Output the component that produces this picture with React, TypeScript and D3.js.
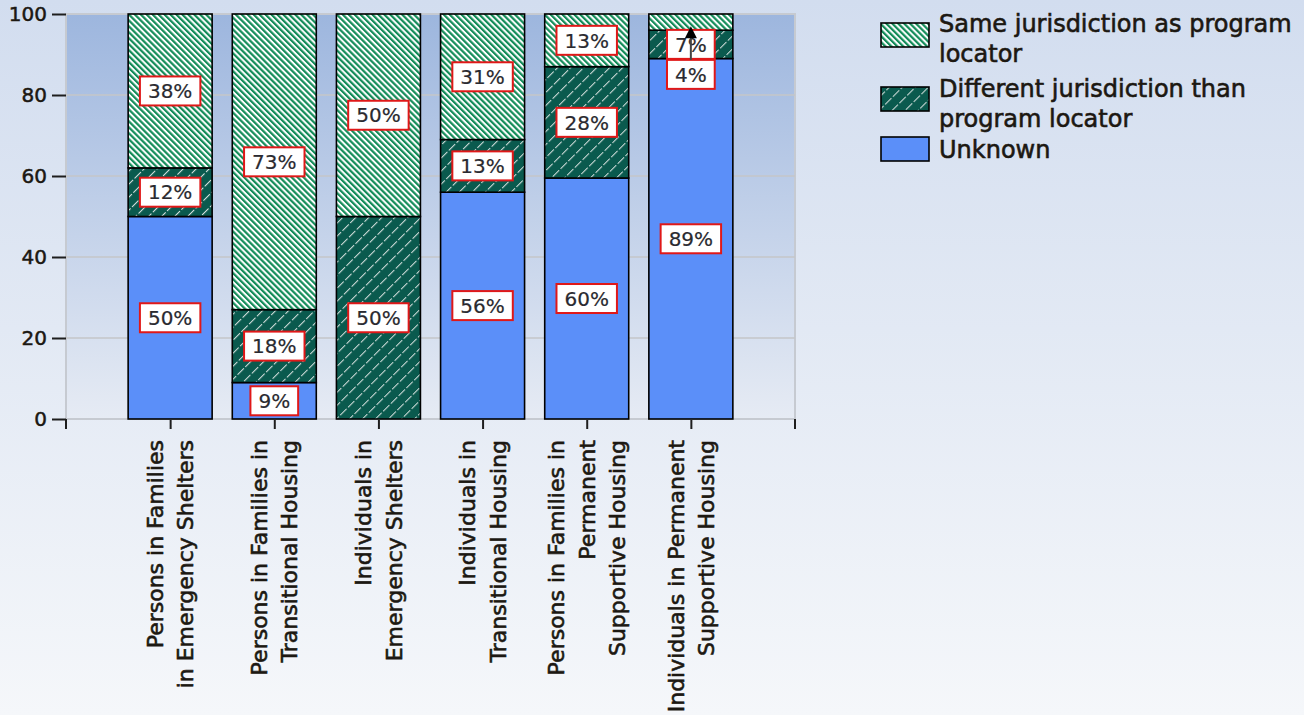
import React, { useEffect, useRef } from "react";
import * as d3 from "d3";

const categories = [
  "Persons in Families in Emergency Shelters",
  "Persons in Families in Transitional Housing",
  "Individuals in Emergency Shelters",
  "Individuals in Transitional Housing",
  "Persons in Families in Permanent Supportive Housing",
  "Individuals in Permanent Supportive Housing",
];
const categoryLines = [
  ["Persons in Families", "in Emergency Shelters"],
  ["Persons in Families in", "Transitional Housing"],
  ["Individuals in", "Emergency Shelters"],
  ["Individuals in", "Transitional Housing"],
  ["Persons in Families in", "Permanent", "Supportive Housing"],
  ["Individuals in Permanent", "Supportive Housing"],
];
const seriesNames = [
  "Unknown",
  "Different jurisdiction than program locator",
  "Same jurisdiction as program locator",
];
const unknownValues = [50, 9, 0, 56, 59.5, 89];
const differentValues = [12, 18, 50, 13, 27.5, 7];
const sameValues = [38, 73, 50, 31, 13, 4];
const yTicks = [0, 20, 40, 60, 80, 100];

const W = 1304;
const H = 715;
const FONT = "'DejaVu Sans', sans-serif";
const TEXT = "#1c1812";

export default function App() {
  const ref = useRef<SVGSVGElement | null>(null);

  useEffect(() => {
    document.body.style.margin = "0";
    const svg = d3.select(ref.current);
    svg.selectAll("*").remove();

    const defs = svg.append("defs");
    const pageG = defs
      .append("linearGradient")
      .attr("id", "pageGrad")
      .attr("x1", 0).attr("y1", 0).attr("x2", 0).attr("y2", 1);
    pageG.append("stop").attr("offset", "0%").attr("stop-color", "#d2ddef");
    pageG.append("stop").attr("offset", "100%").attr("stop-color", "#f5f7fa");

    const plotG = defs
      .append("linearGradient")
      .attr("id", "plotGrad")
      .attr("x1", 0).attr("y1", 0).attr("x2", 0).attr("y2", 1);
    plotG.append("stop").attr("offset", "0%").attr("stop-color", "#9db6de");
    plotG.append("stop").attr("offset", "100%").attr("stop-color", "#e6ebf4");

    // Same jurisdiction pattern: green "\" stripes on white
    const pSame = defs
      .append("pattern")
      .attr("id", "patSame")
      .attr("patternUnits", "userSpaceOnUse")
      .attr("width", 4.2)
      .attr("height", 10)
      .attr("patternTransform", "rotate(-45)");
    pSame.append("rect").attr("width", 4.2).attr("height", 10).attr("fill", "#ffffff");
    pSame.append("rect").attr("width", 2.2).attr("height", 10).attr("fill", "#138c59");

    // Different jurisdiction pattern: dark teal with thin dashed "/" lines
    const pDiff = defs
      .append("pattern")
      .attr("id", "patDiff")
      .attr("patternUnits", "userSpaceOnUse")
      .attr("width", 9.2)
      .attr("height", 11)
      .attr("patternTransform", "rotate(45)");
    pDiff.append("rect").attr("width", 9.2).attr("height", 11).attr("fill", "#0a5a4e");
    pDiff
      .append("line")
      .attr("x1", 0.5).attr("x2", 0.5).attr("y1", 0).attr("y2", 9)
      .attr("stroke", "#d2dedb")
      .attr("stroke-width", 1.1);

    const fills = ["#5b8ff9", "url(#patDiff)", "url(#patSame)"];

    svg.append("rect").attr("width", W).attr("height", H).attr("fill", "url(#pageGrad)");

    const left = 66, right = 795, top = 14, bottom = 419;
    const x = d3.scalePoint<string>().domain(categories).range([left, right]).padding(1);
    const y = d3.scaleLinear().domain([0, 100]).range([bottom, top]);
    const barW = 84;

    // plot area
    svg.append("rect")
      .attr("x", left).attr("y", top)
      .attr("width", right - left).attr("height", bottom - top)
      .attr("fill", "url(#plotGrad)")
      .attr("stroke", "#c6cad1")
      .attr("stroke-width", 2);

    // gridlines
    svg.append("g")
      .selectAll("line")
      .data(yTicks.filter((t) => t > 0 && t < 100))
      .join("line")
      .attr("x1", left).attr("x2", right)
      .attr("y1", (d) => y(d)).attr("y2", (d) => y(d))
      .attr("stroke", "#c4c6c9")
      .attr("stroke-width", 1.5);

    // y axis
    const yAxis = svg.append("g").attr("transform", `translate(${left},0)`)
      .call(d3.axisLeft(y).tickValues(yTicks).tickSize(14).tickPadding(5).tickFormat(d3.format("d")));
    yAxis.select(".domain").remove();
    yAxis.selectAll(".tick line").attr("stroke", "#1e1e1e").attr("stroke-width", 2);
    yAxis.selectAll(".tick text")
      .attr("fill", TEXT)
      .attr("font-family", FONT)
      .attr("font-size", 20)
      .attr("stroke", TEXT)
      .attr("stroke-width", 0.5);

    // x axis ticks
    const xAxis = svg.append("g").attr("transform", `translate(0,${bottom + 1})`)
      .call(d3.axisBottom(x).tickSize(9).tickFormat(() => ""));
    xAxis.select(".domain").remove();
    xAxis.selectAll(".tick line").attr("stroke", "#1e1e1e").attr("stroke-width", 2);
    svg.append("g")
      .selectAll("line")
      .data(x.range())
      .join("line")
      .attr("x1", (d) => d).attr("x2", (d) => d)
      .attr("y1", bottom).attr("y2", bottom + 10)
      .attr("stroke", "#1e1e1e")
      .attr("stroke-width", 2);

    // x labels
    const lineGap = 30.5;
    categories.forEach((c, i) => {
      const lines = categoryLines[i];
      const cx = x(c)!;
      lines.forEach((ln, j) => {
        const lx = cx + (j - (lines.length - 1) / 2) * lineGap;
        svg.append("text")
          .attr("transform", `translate(${lx},440) rotate(-90)`)
          .attr("text-anchor", "end")
          .attr("dy", "0.36em")
          .attr("font-family", FONT)
          .attr("font-size", 22)
          .attr("fill", TEXT)
          .attr("stroke", TEXT)
          .attr("stroke-width", 0.6)
          .text(ln);
      });
    });

    // stacked bars
    const stackData = categories.map((c, i) => ({
      cat: c,
      unknown: unknownValues[i],
      different: differentValues[i],
      same: sameValues[i],
    }));
    const keys = ["unknown", "different", "same"];
    const stacked = d3.stack<any>().keys(keys)(stackData);

    const barsG = svg.append("g");
    stacked.forEach((layer, k) => {
      barsG.append("g")
        .selectAll("rect")
        .data(layer.filter((d) => d[1] - d[0] > 0))
        .join("rect")
        .attr("x", (d) => x(d.data.cat)! - barW / 2)
        .attr("y", (d) => y(d[1]))
        .attr("width", barW)
        .attr("height", (d) => y(d[0]) - y(d[1]))
        .attr("fill", fills[k])
        .attr("stroke", "#000")
        .attr("stroke-width", 1.6);
    });

    // labels
    const labelG = svg.append("g");
    const arrowG = svg.append("g");
    const boxH = 29;
    categories.forEach((c, i) => {
      const cx = x(c)!;
      const placed: { cy: number }[] = [];
      const items: any[] = [];
      stacked.forEach((layer) => {
        const d = layer[i];
        const v = d[1] - d[0];
        if (v <= 0) return;
        const mid = y((d[0] + d[1]) / 2);
        let cy = mid;
        let arrow: null | { from: number; to: number } = null;
        const prev = placed[placed.length - 1];
        if (prev && Math.abs(prev.cy - cy) < boxH) {
          cy = prev.cy + boxH + 1;
          arrow = { from: cy - boxH / 2, to: y(d[0] + v * 0.25) };
        }
        placed.push({ cy });
        items.push({ cy, label: `${Math.round(v)}%`, arrow });
      });
      items.forEach((it) => {
        const t = labelG.append("text")
          .attr("x", cx).attr("y", it.cy)
          .attr("dy", "0.36em")
          .attr("text-anchor", "middle")
          .attr("font-family", FONT)
          .attr("font-size", 20)
          .attr("fill", "#2a2a30")
          .attr("stroke", "#2a2a30")
          .attr("stroke-width", 0.2)
          .text(it.label);
        const tw = (t.node() as SVGTextElement).getComputedTextLength();
        const bw = tw + 16;
        labelG.insert("rect", () => t.node() as any)
          .attr("x", cx - bw / 2).attr("y", it.cy - boxH / 2)
          .attr("width", bw).attr("height", boxH)
          .attr("fill", "#ffffff")
          .attr("stroke", "#e01818")
          .attr("stroke-width", 2);
        if (it.arrow) {
          arrowG.append("line")
            .attr("x1", cx).attr("x2", cx)
            .attr("y1", it.arrow.from).attr("y2", it.arrow.to + 8)
            .attr("stroke", "#444")
            .attr("stroke-width", 2);
          arrowG.append("path")
            .attr("d", `M${cx},${it.arrow.to} L${cx - 6},${it.arrow.to + 12} L${cx + 6},${it.arrow.to + 12} Z`)
            .attr("fill", "#000");
        }
      });
    });
    arrowG.raise();

    // legend
    const legendItems = [
      { k: 2, lines: ["Same jurisdiction as program", "locator"], swY: 23, tY: 32 },
      { k: 1, lines: ["Different jurisdiction than", "program locator"], swY: 87, tY: 97 },
      { k: 0, lines: ["Unknown"], swY: 137, tY: 158 },
    ];
    const lg = svg.append("g");
    legendItems.forEach((it) => {
      lg.append("rect")
        .attr("x", 881).attr("y", it.swY)
        .attr("width", 48).attr("height", 24)
        .attr("fill", fills[it.k])
        .attr("stroke", "#000")
        .attr("stroke-width", 1.6)
        .append("title").text(seriesNames[it.k]);
      it.lines.forEach((ln, j) => {
        lg.append("text")
          .attr("x", 939).attr("y", it.tY + j * 30)
          .attr("font-family", FONT)
          .attr("font-size", 24)
          .attr("fill", TEXT)
          .attr("stroke", TEXT)
          .attr("stroke-width", 0.6)
          .text(ln);
      });
    });
  }, []);

  return <svg ref={ref} width={W} height={H} style={{ display: "block" }} />;
}
